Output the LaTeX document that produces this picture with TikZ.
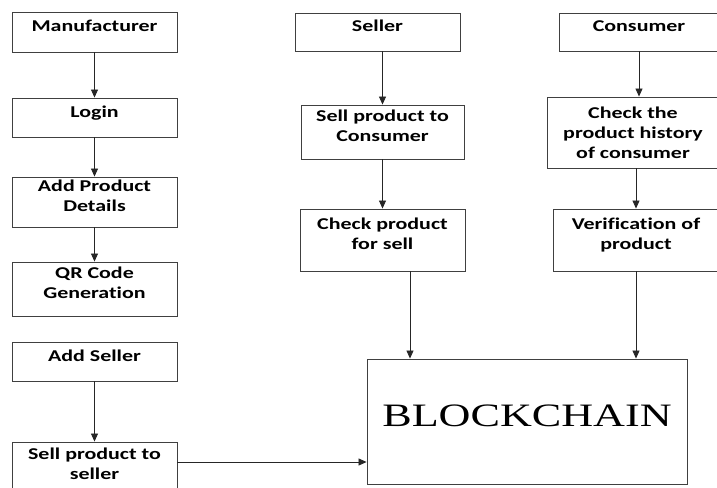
\documentclass[tikz,border=0pt]{standalone}
\usepackage{fontspec}
\setmainfont[FakeStretch=1.33, Ligatures=NoCommon]{Carlito}
\newfontfamily\chainfont[FakeStretch=1.35]{Liberation Serif}
\usepackage{xcolor}
\usepackage{tikz}
\usetikzlibrary{arrows.meta}

\begin{document}
\begin{tikzpicture}[x=1pt, y=-1pt,
        box/.style={draw=black!75, line width=0.9pt, align=center, inner sep=0pt,
            font=\bfseries\fontsize{16.5}{20}\selectfont, text depth=12pt},
        arr/.style={-{Triangle[length=8pt, width=7pt]}, line width=0.8pt, draw=black!85}]
        \useasboundingbox (0, 0) rectangle (717, 487);
        \clip (0, 0) rectangle (717, 487);

        % manufacturer column
        \node[box, minimum width=165pt, minimum height=40pt] (mfr) at (94.5, 32) {Manufacturer};
        \node[box, minimum width=165pt, minimum height=39pt] (login) at (94.5, 117.5) {Login};
        \node[box, minimum width=165pt, minimum height=50pt] (details) at (94.5, 202) {Add Product\\Details};
        \node[box, minimum width=165pt, minimum height=54pt] (qr) at (94.5, 289) {QR Code\\Generation};
        \node[box, minimum width=165pt, minimum height=39pt] (addseller) at (94.5, 361.5) {Add Seller};
        \node[box, minimum width=165pt, minimum height=48pt, text depth=4pt] (sellseller) at (94.5, 466) {Sell product to\\seller};

        % seller column
        \node[box, minimum width=165pt, minimum height=38pt] (seller) at (377.5, 32) {Seller};
        \node[box, minimum width=163pt, minimum height=54pt] (sellcons) at (382.5, 132) {Sell product to\\Consumer};
        \node[box, minimum width=165pt, minimum height=62pt] (checksell) at (382.5, 240) {Check product\\for sell};

        % consumer column
        \node[box, minimum width=160pt, minimum height=38pt] (consumer) at (639, 32) {Consumer};
        \node[box, minimum width=172pt, minimum height=71pt, text depth=0pt] (history) at (633, 132.5) {Check the\\product history\\of consumer};
        \node[box, minimum width=166pt, minimum height=62pt] (verif) at (636, 240) {Verification of\\product};

        \node[draw=black!75, line width=0.9pt, minimum width=320pt, minimum height=125pt,
            font=\chainfont\fontsize{32.7}{36}\selectfont, text depth=12pt] (chain) at (527, 421.5) {BLOCKCHAIN};

        % arrows
        \draw[arr] (mfr) -- (login);
        \draw[arr] (login) -- (details);
        \draw[arr] (details) -- (qr);
        \draw[arr] (addseller) -- (sellseller);
        \draw[arr] (sellcons.north |- seller.south) -- (sellcons.north);
        \draw[arr] (sellcons) -- (checksell);
        \draw[arr] (consumer.south) -- (consumer.south |- history.north);
        \draw[arr] (verif.north |- history.south) -- (verif.north);
        \draw[arr] ([xshift=27.5pt]checksell.south) -- ([xshift=27.5pt]checksell.south |- chain.north);
        \draw[arr] (verif.south) -- (verif.south |- chain.north);
        \draw[arr] ([yshift=4pt]sellseller.east) -- ([yshift=4pt]sellseller.east -| chain.west);
    \end{tikzpicture}
\end{document}
